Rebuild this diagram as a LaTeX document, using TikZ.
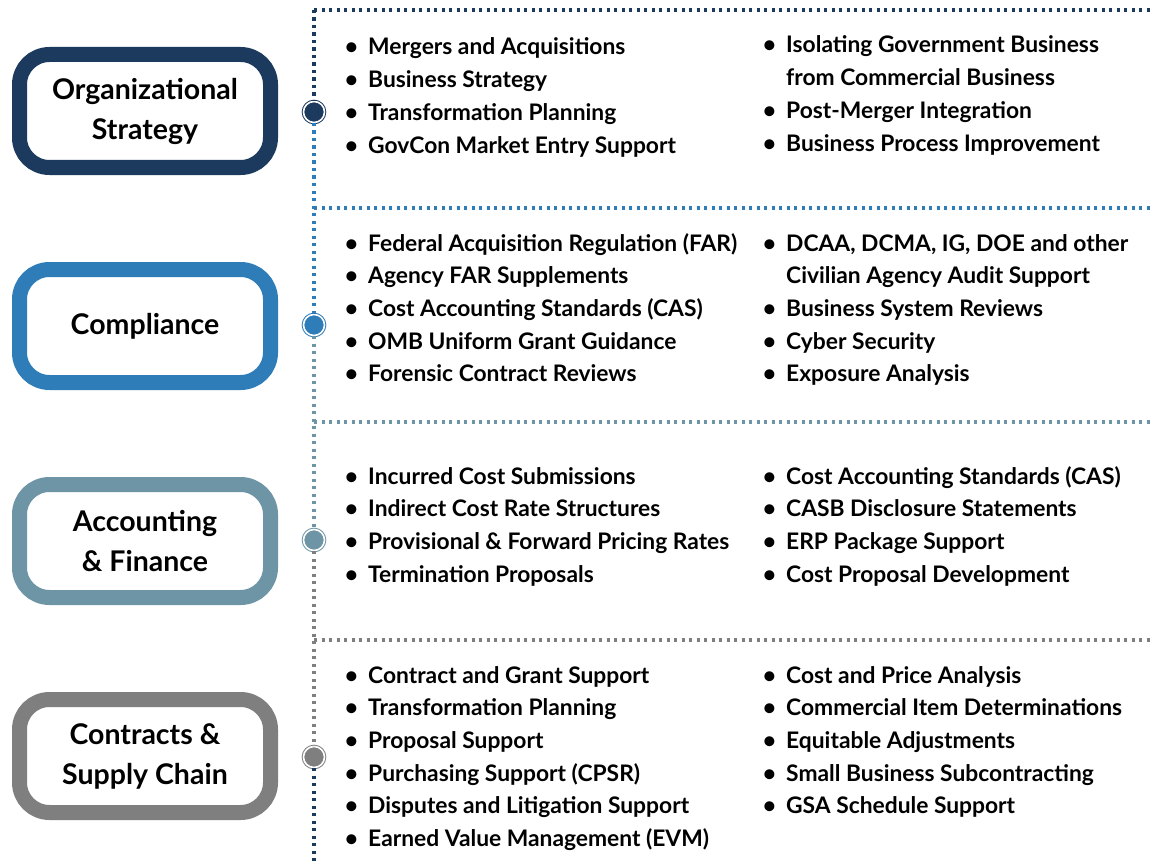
\documentclass[tikz,border=0pt]{standalone}
\usepackage{fontspec}
\setmainfont{Lato}
\definecolor{navyc}{HTML}{1B3A5E}
\definecolor{bluec}{HTML}{2F7DB8}
\definecolor{steelc}{HTML}{6D95A5}
\definecolor{greyc}{HTML}{7F7F7F}
\newcommand\bl{\llap{\textbullet\hspace{10pt}}}
\tikzset{
  catbox/.style={draw=#1, line width=15pt, rounded corners=30pt, minimum width=251pt, minimum height=113pt, fill=white, align=center, font=\bfseries\fontsize{28.5}{40}\selectfont},
  hub/.style={circle, fill=#1, draw=#1, line width=1pt, double=white, double distance=1.6pt, minimum size=21pt, inner sep=0pt},
  dotline/.style={draw=#1, line width=3.3pt, dash pattern=on 3.3pt off 4.2pt},
  item/.style={anchor=base west, inner sep=0pt, font=\bfseries\fontsize{22.8}{26}\selectfont}
}
\begin{document}
\begin{tikzpicture}[x=1pt, y=-1pt]
  \useasboundingbox[fill=white] (0,0) rectangle (1154,864);
  % category boxes
  \node[catbox=navyc] (org) at (145,111) {Organizational\\Strategy};
  \node[catbox=bluec] (comp) at (145,326) {Compliance};
  \node[catbox=steelc] (acct) at (145,541) {Accounting\\\& Finance};
  \node[catbox=greyc] (cont) at (145,756) {Contracts \&\\Supply Chain};
  % timeline
  \coordinate (top) at (314,10);
  \coordinate (bot) at (314,864);
  \node[hub=navyc] (h1) at (314,112) {};
  \node[hub=bluec] (h2) at (314,325) {};
  \node[hub=steelc] (h3) at (314,540) {};
  \node[hub=greyc] (h4) at (314,757) {};
  \draw[dotline=navyc] (top) -- (h1);
  \draw[dotline=bluec] (h1) -- (h2);
  \draw[dotline=steelc] (h2) -- (h3);
  \draw[dotline=greyc] (h3) -- (h4);
  \draw[dotline=navyc] (h4) -- (bot);
  % separators
  \coordinate (r1) at (1154,10);
  \coordinate (l2) at (314,208); \coordinate (r2) at (1154,208);
  \coordinate (l3) at (314,422); \coordinate (r3) at (1154,422);
  \coordinate (l4) at (314,640); \coordinate (r4) at (1154,640);
  \draw[dotline=navyc] (top) -- (r1);
  \draw[dotline=bluec] (l2) -- (r2);
  \draw[dotline=steelc] (l3) -- (r3);
  \draw[dotline=greyc] (l4) -- (r4);
  % organizational strategy
  \foreach \txt [count=\i from 0] in {\bl Mergers and Acquisitions, \bl Business Strategy, \bl Transformation Planning, \bl GovCon Market Entry Support}
    \node[item] (osl\i) at (368,55+\i*32.7) {\txt};
  \foreach \txt [count=\i from 0] in {\bl Isolating Government Business, from Commercial Business, \bl Post-Merger Integration, \bl Business Process Improvement}
    \node[item] (osr\i) at (786,53+\i*32.7) {\txt};
  % compliance
  \foreach \txt [count=\i from 0] in {\bl Federal Acquisition Regulation (FAR), \bl Agency FAR Supplements, \bl Cost Accounting Standards (CAS), \bl OMB Uniform Grant Guidance, \bl Forensic Contract Reviews}
    \node[item] (cml\i) at (368,251+\i*32.7) {\txt};
  \foreach \txt [count=\i from 0] in {{\bl DCAA, DCMA, IG, DOE and other}, Civilian Agency Audit Support, \bl Business System Reviews, \bl Cyber Security, \bl Exposure Analysis}
    \node[item] (cmr\i) at (786,251+\i*32.7) {\txt};
  % accounting & finance
  \foreach \txt [count=\i from 0] in {\bl Incurred Cost Submissions, \bl Indirect Cost Rate Structures, \bl Provisional \& Forward Pricing Rates, \bl Termination Proposals}
    \node[item] (afl\i) at (368,484+\i*32.7) {\txt};
  \foreach \txt [count=\i from 0] in {\bl Cost Accounting Standards (CAS), \bl CASB Disclosure Statements, \bl ERP Package Support, \bl Cost Proposal Development}
    \node[item] (afr\i) at (786,484+\i*32.7) {\txt};
  % contracts & supply chain
  \foreach \txt [count=\i from 0] in {\bl Contract and Grant Support, \bl Transformation Planning, \bl Proposal Support, \bl Purchasing Support (CPSR), \bl Disputes and Litigation Support, \bl Earned Value Management (EVM)}
    \node[item] (csl\i) at (368,683+\i*32.7) {\txt};
  \foreach \txt [count=\i from 0] in {\bl Cost and Price Analysis, \bl Commercial Item Determinations, \bl Equitable Adjustments, \bl Small Business Subcontracting, \bl GSA Schedule Support}
    \node[item] (csr\i) at (786,683+\i*32.7) {\txt};
\end{tikzpicture}
\end{document}
